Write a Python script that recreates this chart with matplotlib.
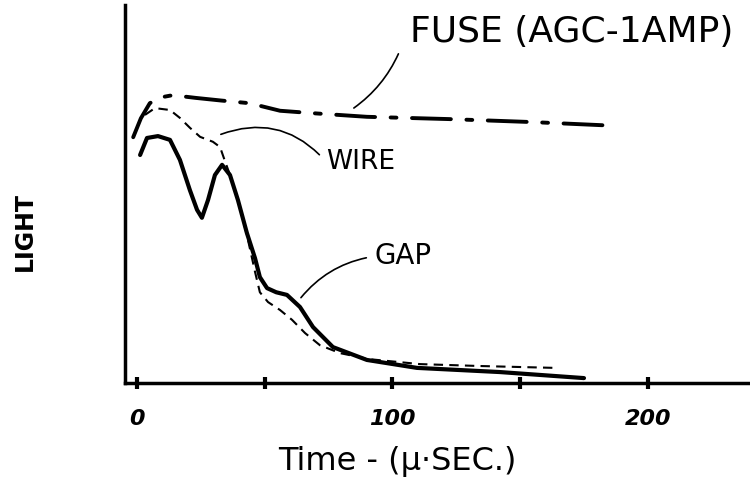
import numpy as np
import matplotlib.pyplot as plt

# light output vs time (arbitrary light units)
fuse_t = [-1.5, 1.5, 5, 9, 13, 18, 23, 33, 44, 56, 70, 90, 122, 155, 188]
fuse_L = [65, 70, 74, 75.5, 76, 75.8, 75.4, 74.7, 74, 72, 71.3, 70.4, 69.8, 69, 68]

gap_t = [1.2, 3.9, 8.2, 12.9, 16.8, 20.7, 23.5, 25.4, 27.8, 30.5, 33.3, 36.4, 39.5,
         43, 46.2, 48.1, 50.9, 54.5, 58.7, 63.8, 68.9, 76.7, 90, 109.6, 142, 175]
gap_L = [60.3, 64.8, 65.3, 64.3, 59, 51, 45.8, 43.7, 48.4, 55, 57.7, 55, 48.4,
         39.7, 33, 28, 25.1, 24, 23.3, 20.1, 14.8, 9.5, 6.1, 4.0, 2.9, 1.3]

wire_t = [3.1, 7, 12.9, 16.8, 20.7, 24.7, 29.7, 32.5, 34, 36.4, 39.5, 43, 46.2,
          48.1, 51.3, 56, 60.7, 65.8, 71.6, 79.5, 91, 110.8, 134, 163.6]
wire_L = [70.9, 72.7, 72.2, 70.1, 67.5, 65.1, 63.8, 62.4, 59.5, 55, 48.4, 39.2, 29.4,
          24, 21.4, 19.3, 16.7, 13.2, 10, 7.9, 6.3, 5.0, 4.5, 4.0]

tick_pos = [0, 50, 100, 150, 200]
tick_lab = ['0', '', '100', '', '200']

fig = plt.figure(figsize=(7.5, 4.93), dpi=100)
ax = fig.add_axes([0.1667, 0.2231, 0.8333, 0.767])

ax.plot(fuse_t, fuse_L, color='black', lw=2.8, linestyle=(0, (10, 4, 1.5, 4)),
        solid_capstyle='round', dash_capstyle='round')
ax.plot(wire_t, wire_L, color='black', lw=1.5, linestyle=(0, (4.5, 3)))
ax.plot(gap_t, gap_L, color='black', lw=3, solid_capstyle='round')

ax.set_xlim(-4.7, 240)
ax.set_ylim(0, 100)

for s in ['top', 'right']:
    ax.spines[s].set_visible(False)
for s in ['left', 'bottom']:
    ax.spines[s].set_linewidth(2.5)

ax.set_yticks([])
ax.set_xticks(tick_pos)
ax.set_xticklabels(tick_lab, fontsize=16, fontstyle='italic', fontweight='bold')
ax.tick_params(axis='x', direction='inout', length=9, width=3, pad=14)

ax.text(-0.16, 0.4, 'LIGHT', transform=ax.transAxes, rotation=90,
        fontsize=17, fontweight='bold', ha='center', va='center')
fig.text(0.53, 0.063, 'Time - (\u03bc\u00b7SEC.)', fontsize=23,
         ha='center', va='center')

# curve labels with hand-drawn leader lines
lead = dict(arrowstyle='-', color='black', lw=1.2)
ax.annotate('FUSE (AGC-1AMP)', xy=(84, 72.3), xytext=(107, 92.9),
            fontsize=26, ha='left', va='center',
            arrowprops=dict(lead, connectionstyle='arc3,rad=-0.15',
                            shrinkA=4, relpos=(-0.03, 0.0)))
ax.annotate('WIRE', xy=(31.8, 65.5), xytext=(74, 58.5),
            fontsize=19, ha='left', va='center',
            arrowprops=dict(lead, connectionstyle='arc3,rad=0.35',
                            shrinkA=4, relpos=(0.0, 0.5)))
ax.annotate('GAP', xy=(63.5, 22), xytext=(93, 33.5),
            fontsize=20, ha='left', va='center',
            arrowprops=dict(lead, connectionstyle='arc3,rad=0.2',
                            shrinkA=4, relpos=(0.0, 0.5)))

fig.savefig('out.png', dpi=100)
